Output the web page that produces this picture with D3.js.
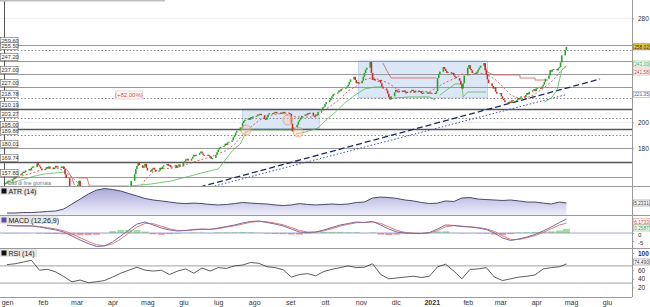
<!DOCTYPE html>
<html>
<head>
<meta charset="utf-8">
<script src="https://cdn.jsdelivr.net/npm/d3@7"></script>
<style>
  body { margin: 0; background: #fff; }
  svg { display: block; font-family: "Liberation Sans", Arial, sans-serif; }
</style>
</head>
<body>
<svg id="chart" width="650" height="307"></svg>
<script>
// ---- data ----

// daily closes, weekdays from 2019-12-30 to 2021-04-27
const closes = [
  153, 153.5, 154, 155, 154.5,
  156, 157.5, 157, 159, 160,
  159.5, 161, 162, 161.5, 163,
  164, 163, 165, 166, 165.5,
  168.5, 167, 166, 164.5, 163.5,
  164, 165.5, 164.5, 166, 165,
  164, 165, 166.5, 165.5, 166,
  165, 166, 164, 160, 157,
  148, 146, 142, 140, 143,
  152, 155, 150, 146, 141,
  130, 132, 125, 112, 118,
  115, 120, 112, 110, 116,
  122, 128, 126, 124, 121,
  126, 125, 120, 122, 121,
  130, 132, 134, 138, 138,
  138, 144, 148, 151, 155,
  160, 164, 166.5, 169.5, 167,
  165, 166, 168, 165, 163,
  162, 164, 165, 163.5, 162,
  163, 165, 164, 166, 167,
  168, 166.5, 167, 165.5, 166,
  167, 165, 166.5, 167.5, 166,
  169, 170, 171.5, 172, 170.5,
  172, 173.5, 175, 174, 175,
  176.5, 177.5, 176, 175, 174.5,
  175, 174, 173.5, 172, 172.5,
  175, 177, 179, 180.5, 181,
  182, 183.5, 182.5, 184.5, 185,
  186, 188.5, 190, 192, 193.5,
  196, 195, 199.5, 201, 202,
  203, 202, 204, 203.5, 204.5,
  205, 206, 205.5, 206.5, 205.5,
  202.5, 202, 204, 206, 207,
  206.5, 207.5, 208, 207, 207.5,
  206.5, 207.5, 208, 207, 207.5,
  207, 206.5, 199, 193, 196,
  198, 200.5, 202, 203.5, 205,
  206, 205.5, 207, 206.5, 207.5,
  205, 204.5, 206, 205.5, 208,
  210, 211.5, 212, 214, 215.5,
  217, 218.5, 220, 221.5, 222,
  223, 224.5, 224, 225.5, 226,
  226.5, 227.5, 229, 231, 233,
  235, 232.5, 230, 231, 230,
  232, 235, 238, 240.5, 242,
  246.5, 238, 232.5, 233.5, 232,
  231.5, 232.5, 230, 227.5, 226,
  224.5, 222, 219.5, 217.5, 220,
  223, 225, 224, 223, 224,
  223.5, 224.5, 223, 222.5, 223.5,
  224, 225, 224, 223, 224.5,
  223.5, 224, 222.5, 222, 223,
  223, 222, 223, 222.5, 222.5,
  222, 224, 234, 237, 239,
  242.5, 241, 239.5, 238, 238.5,
  237.5, 238, 236, 235, 234,
  232, 229, 226, 230, 236,
  242, 244, 241, 240, 238,
  237.5, 239, 240.5, 242, 243.5,
  245.5, 240, 237, 233, 230,
  228, 226, 227, 223.5, 222,
  222.5, 220, 218, 217, 215.5,
  214.5, 216, 215, 217, 216.5,
  217, 218.5, 217.5, 219, 220,
  219.5, 221, 222.5, 221.5, 223.5,
  224.5, 225.5, 224, 226, 226.5,
  226, 227.5, 229, 231, 233.5,
  236, 240, 239, 240.5, 241,
  240, 241.5, 242.5, 246, 251.5,
  255.5, 258.02
];

// weekly samples (one per week, Wednesdays from 2020-01-01, last = 2021-04-27)
const ma20 = [154, 157, 159, 160.8, 163, 164.3, 165, 162.9, 157.8, 151.8, 139.8, 129.5, 124, 119,
  124, 133.8, 145.3, 155.8, 161.8, 164.8, 164.5, 165.3, 167.4, 169.4, 171.5, 173.1, 175.8, 178.3,
  183, 190.4, 196.3, 201.4, 204.8, 206.1, 206.9, 204.5, 204, 204, 204.1, 209, 213.3, 217.9,
  224.3, 227.8, 232.8, 234.3, 232.5, 230, 225.5, 223.4, 223, 223.8, 223.4, 227.3, 230.8, 233.5,
  237, 236.6, 238, 236.9, 233.4, 227.8, 221, 218.5, 218.9, 221.6, 226, 231.1, 238.1, 244];

const atr = [2.0, 2.0, 2.15, 2.15, 2.3, 2.5, 2.65, 3.3, 4.9, 6.5, 8.1, 9.4, 9.9, 9.6, 9.1, 8.3,
  7.5, 6.7, 6.2, 5.9, 5.55, 5.2, 5.05, 5.2, 5.05, 4.75, 4.6, 4.75, 5.05, 5.4, 5.2, 5.05, 4.9,
  4.6, 4.4, 4.6, 5.05, 4.75, 4.6, 4.75, 4.9, 4.75, 4.9, 5.4, 5.55, 6.85, 7.15, 7.0, 6.7, 6.2,
  5.9, 5.4, 5.05, 5.2, 5.9, 5.7, 6.85, 7.0, 6.5, 6.35, 6.2, 6.05, 6.2, 5.9, 5.55, 5.55, 5.2,
  4.9, 5.55, 5.2331];

const macd = [4.7, 4.4, 4.4, 4.4, 3.75, 2.8, 1.9, 0.6, -1.9, -4.4, -6.6, -8.4, -8.1, -5.6, -1.9,
  1.9, 5.6, 6.9, 5, 3.1, 1.9, 1.25, 1.6, 2.2, 2.5, 2.2, 3.1, 4.05, 5, 6.25, 7.2, 7.5, 6.55, 5.6,
  4.4, 2.5, 0.6, 0.3, 0.6, 1.9, 3.4, 5, 5.9, 6.9, 6.55, 7.2, 5, 2.5, 0.6, 0, -0.3, -0.3, 0.3,
  2.5, 5, 4.7, 4.05, 3.75, 3.1, 2.2, 0, -3.1, -4.7, -3.75, -2.5, -0.9, 1.25, 3.75, 6.55, 8.75];

const signal = [4.9, 4.6, 4.5, 4.4, 4.1, 3.3, 2.5, 1.4, -0.5, -3.0, -5.3, -7.3, -8.0, -6.8, -3.8,
  0.0, 3.8, 6.0, 5.8, 4.2, 2.6, 1.6, 1.5, 1.9, 2.3, 2.3, 2.7, 3.6, 4.5, 5.6, 6.7, 7.3, 7.0, 6.2,
  5.1, 3.4, 1.6, 0.6, 0.5, 1.3, 2.7, 4.3, 5.4, 6.4, 6.6, 6.9, 6.0, 3.8, 1.6, 0.4, -0.1, -0.3, 0.0,
  1.5, 3.9, 4.6, 4.3, 3.9, 3.4, 2.6, 1.0, -1.8, -4.0, -4.1, -3.0, -1.6, 0.3, 2.7, 5.0, 6.1733];

const rsi = [73, 75, 79, 83, 60, 62, 56, 45, 33, 37, 31, 33, 36, 44, 53, 60, 67, 60, 58, 60, 50,
  58, 63, 53, 65, 58, 66, 64, 70, 72, 78, 76, 68, 66, 61, 44, 50, 52, 47, 57, 62, 66, 70, 66, 67,
  75, 50, 40, 42, 44, 46, 43, 46, 68, 74, 58, 40, 62, 63, 66, 44, 36, 40, 44, 46, 49, 63, 66, 68,
  74.49];

// support / resistance levels drawn across the price panel
const levels = [259.60, 255.50, 247.20, 237.00, 227.00, 218.78, 210.19, 203.27, 195.00, 189.86, 180.01, 169.74, 157.80];
const levelKinds = ["solid", "dotted", "solid", "solid", "solid", "dotted", "thick", "dotted", "thick", "dotted", "solid", "thick", "solid"];

// trailing lines (segments of [date, value])
const greenLine = [
  [["2019-12-29", 152.5], ["2020-01-08", 154.1], ["2020-01-16", 156.4], ["2020-01-25", 158.7], ["2020-02-02", 160.2], ["2020-02-11", 161.0], ["2020-02-20", 161.8]],
  [["2020-04-16", 151.0], ["2020-05-04", 152.5], ["2020-05-21", 154.8], ["2020-06-07", 158.7], ["2020-06-20", 161.8], ["2020-07-01", 164.1], ["2020-07-07", 171.0], ["2020-07-13", 177.9], ["2020-07-20", 183.3], ["2020-07-25", 192.5], ["2020-07-29", 194.1], ["2020-08-23", 194.1], ["2020-09-02", 194.1]],
  [["2020-09-06", 191.0], ["2020-09-14", 192.5], ["2020-09-25", 195.6], ["2020-10-02", 201.8], ["2020-10-10", 207.9], ["2020-10-18", 214.8], ["2020-10-27", 221.0], ["2020-11-04", 225.6], ["2020-11-13", 227.2], ["2020-11-20", 227.2]],
  [["2020-11-29", 218.7], ["2020-12-13", 219.5], ["2020-12-30", 219.5], ["2021-01-04", 217.2]],
  [["2021-01-08", 221.0], ["2021-01-21", 229.5], ["2021-01-27", 229.5], ["2021-01-28", 219.5], ["2021-02-01", 223.3], ["2021-02-17", 223.3]],
  [["2021-04-08", 215.6], ["2021-04-14", 218.7], ["2021-04-19", 224.8], ["2021-04-23", 240.2], ["2021-04-27", 243.0]]
];
const redLine = [
  [["2020-02-19", 165.6], ["2020-02-22", 163.3], ["2020-02-26", 157.2], ["2020-02-28", 151.8]],
  [["2020-03-03", 157.2], ["2020-03-10", 157.2], ["2020-03-12", 151.0], ["2020-04-15", 151.0]],
  [["2020-11-20", 245.6], ["2020-11-23", 240.2], ["2020-11-27", 234.1], ["2021-01-05", 234.1]],
  [["2021-02-15", 245.6], ["2021-02-18", 238.7], ["2021-02-23", 236.4], ["2021-03-18", 236.4], ["2021-03-18", 234.1], ["2021-03-31", 234.1], ["2021-03-31", 232.5], ["2021-04-11", 232.5]]
];

// trend lines
const trendNavy = [["2020-06-15", 150.2], ["2021-05-26", 233.3]];
const trendBlue = [["2020-06-28", 151.0], ["2021-04-27", 221.35]];

// consolidation boxes and marked lows
const boxes = [
  { from: "2020-07-22", to: "2020-09-26", lo: 195.00, hi: 210.19 },
  { from: "2020-10-30", to: "2021-02-18", lo: 218.78, hi: 247.20 }
];
const circles = [["2020-07-25", 194.0], ["2020-08-30", 201.8], ["2020-09-08", 192.5]];

// last values shown in the right margin
const lastGreen = 243.00, lastRed = 241.58, lastHist = 0.2587;

const monthNames = ["gen", "feb", "mar", "apr", "mag", "giu", "lug", "ago", "set", "ott", "nov", "dic"];

// ---- setup ----
const svg = d3.select("#chart");
const parse = d3.timeParse("%Y-%m-%d");
const plotR = 632;
const mainTop = 0, mainBot = 186, atrBot = 215, macdBot = 248, rsiBot = 297;

const x = d3.scaleTime()
  .domain([new Date(2020, 0, 1), new Date(2021, 5, 1)])
  .range([7, 607]);
const y = d3.scaleLinear().domain([200, 280]).range([122.3, 18.3]);
const yAtr = d3.scaleLinear().domain([2, 5.2331]).range([213, 203]);
const yMacd = d3.scaleLinear().domain([0, -5]).range([233, 241]);
const yRsi = d3.scaleLinear().domain([0, 100]).range([296, 253]);

// trading days
const days = [];
for (let d = new Date(2019, 11, 30); days.length < closes.length; d.setDate(d.getDate() + 1)) {
  if (d.getDay() !== 0 && d.getDay() !== 6) days.push(new Date(d));
}
const candles = closes.map((c, i) => ({ date: days[i], open: i ? closes[i - 1] : c, close: c }));

// weekly sample dates
const weeks = atr.map((v, k) => k < atr.length - 1 ? new Date(2020, 0, 1 + 7 * k) : new Date(2021, 3, 27));

const defs = svg.append("defs");
defs.append("clipPath").attr("id", "clipMain")
  .append("rect").attr("x", 0).attr("y", mainTop).attr("width", plotR).attr("height", mainBot - mainTop);
const grad = defs.append("linearGradient").attr("id", "atrFill")
  .attr("x1", 0).attr("x2", 0).attr("y1", 0).attr("y2", 1);
grad.append("stop").attr("offset", "0%").attr("stop-color", "#a9a9dc");
grad.append("stop").attr("offset", "100%").attr("stop-color", "#eeeef9");

// ---- main price panel ----
const main = svg.append("g").attr("clip-path", "url(#clipMain)");

// faint grid at right axis ticks
main.selectAll(".grid").data([280, 200, 180]).enter().append("line")
  .attr("x1", 0).attr("x2", plotR)
  .attr("y1", d => y(d)).attr("y2", d => y(d))
  .attr("stroke", "#ececec");

// boxes
main.selectAll(".box").data(boxes).enter().append("rect")
  .attr("x", d => x(parse(d.from)))
  .attr("width", d => x(parse(d.to)) - x(parse(d.from)))
  .attr("y", d => y(d.hi))
  .attr("height", d => y(d.lo) - y(d.hi))
  .attr("fill", "#dbe6f7")
  .attr("stroke", "#a9bede")
  .attr("stroke-width", 0.6);

// level lines
main.selectAll(".level").data(levels).enter().append("line")
  .attr("x1", 0).attr("x2", plotR)
  .attr("y1", d => Math.round(y(d)) + 0.5).attr("y2", d => Math.round(y(d)) + 0.5)
  .attr("stroke", (d, i) => levelKinds[i] === "thick" ? "#555" : levelKinds[i] === "dotted" ? "#8a8a8a" : "#999")
  .attr("stroke-width", (d, i) => levelKinds[i] === "thick" ? 1.6 : 1)
  .attr("stroke-dasharray", (d, i) => levelKinds[i] === "dotted" ? "1.5,2" : null);

// trend lines
const tl = d3.line().x(d => x(parse(d[0]))).y(d => y(d[1]));
main.append("path").attr("d", tl(trendNavy))
  .attr("fill", "none").attr("stroke", "#1c2a5e").attr("stroke-width", 1.3).attr("stroke-dasharray", "6,3");
main.append("path").attr("d", tl(trendBlue))
  .attr("fill", "none").attr("stroke", "#3d55b0").attr("stroke-width", 1).attr("stroke-dasharray", "1.5,2");

// 20-day average (red dotted)
const lineW = d3.line().x((d, i) => x(weeks[i])).y(d => y(d));
main.append("path").attr("d", lineW(ma20))
  .attr("fill", "none").attr("stroke", "#d9534f").attr("stroke-width", 0.9).attr("stroke-dasharray", "2,2");

// trailing lines
main.selectAll(".green").data(greenLine).enter().append("path")
  .attr("d", tl).attr("fill", "none").attr("stroke", "#55bb55").attr("stroke-width", 0.8);
main.selectAll(".red").data(redLine).enter().append("path")
  .attr("d", tl).attr("fill", "none").attr("stroke", "#d65a5a").attr("stroke-width", 0.8);

// candles
main.selectAll(".candle").data(candles).enter().append("rect")
  .attr("x", d => x(d.date) - 0.8)
  .attr("width", 1.6)
  .attr("y", d => y(Math.max(d.open, d.close)))
  .attr("height", d => Math.max(1, Math.abs(y(d.open) - y(d.close))))
  .attr("fill", d => d.close >= d.open ? "#22a822" : "#d12a2a");

// marked lows
main.selectAll(".circ").data(circles).enter().append("circle")
  .attr("cx", d => x(parse(d[0]))).attr("cy", d => y(d[1])).attr("r", 5)
  .attr("fill", "#f6cdb4").attr("fill-opacity", 0.45)
  .attr("stroke", "#e39a78").attr("stroke-width", 0.7);

// percentage label
const pct = svg.append("g").attr("transform", `translate(${x(parse("2020-04-15"))},${y(221)})`);
pct.append("rect").attr("x", -13).attr("y", -4).attr("width", 27).attr("height", 8)
  .attr("fill", "#fff").attr("stroke", "#eab2b2").attr("stroke-width", 0.6);
pct.append("text").attr("y", 2.3).attr("text-anchor", "middle")
  .style("font-size", "6px").style("fill", "#d04545").text("(+82,00%)");

// watermark
svg.append("text").attr("x", 8).attr("y", 185).style("font-size", "5px").style("fill", "#777")
  .text("Dati di fine giornata");

// left vertical marker and top bar
svg.append("line").attr("x1", 4.5).attr("x2", 4.5).attr("y1", 0).attr("y2", mainBot).attr("stroke", "#555");
svg.append("rect").attr("x", 0).attr("y", 0).attr("width", 165).attr("height", 1.5).attr("fill", "#bdbdbd");

// left level labels
const lab = svg.selectAll(".lvlab").data(levels).enter().append("g")
  .attr("transform", d => `translate(0,${Math.round(y(d)) - 4})`);
lab.append("rect").attr("x", 0.5).attr("y", -3.5).attr("width", 17.5).attr("height", 7)
  .attr("fill", "#fff").attr("stroke", "#666").attr("stroke-width", 0.6);
lab.append("text").attr("x", 1.5).attr("y", 2.2).style("font-size", "5.6px").style("fill", "#333")
  .text(d => d.toFixed(2));

// ---- ATR panel ----
const areaAtr = d3.area().x((d, i) => x(weeks[i])).y0(atrBot).y1(d => yAtr(d));
svg.append("path").attr("d", areaAtr(atr)).attr("fill", "url(#atrFill)");
svg.append("path").attr("d", d3.line().x((d, i) => x(weeks[i])).y(d => yAtr(d))(atr))
  .attr("fill", "none").attr("stroke", "#4a4a6a").attr("stroke-width", 1);

// ---- MACD panel ----
const hist = macd.map((m, i) => m - signal[i]);
svg.selectAll(".hist").data(hist).enter().append("rect")
  .attr("x", (d, i) => x(weeks[i]) - 3.5)
  .attr("width", 7)
  .attr("y", d => Math.min(yMacd(0), yMacd(d)))
  .attr("height", d => Math.abs(yMacd(d) - yMacd(0)))
  .attr("fill", d => d >= 0 ? "#5ccc5c" : "#e05555")
  .attr("opacity", 0.6);
svg.append("line").attr("x1", 0).attr("x2", plotR).attr("y1", yMacd(0)).attr("y2", yMacd(0))
  .attr("stroke", "#8c8cc8").attr("stroke-width", 0.8);
svg.append("path").attr("d", lineW.y(d => yMacd(d))(signal))
  .attr("fill", "none").attr("stroke", "#e07a7a").attr("stroke-width", 1);
svg.append("path").attr("d", lineW.y(d => yMacd(d))(macd))
  .attr("fill", "none").attr("stroke", "#7b6a9e").attr("stroke-width", 1);

// ---- RSI panel ----
svg.selectAll(".rsiref").data([70, 30]).enter().append("line")
  .attr("x1", 0).attr("x2", plotR)
  .attr("y1", d => yRsi(d)).attr("y2", d => yRsi(d))
  .attr("stroke", "#a0a0a0");
svg.append("path").attr("d", lineW.y(d => yRsi(d))(rsi))
  .attr("fill", "none").attr("stroke", "#333").attr("stroke-width", 0.8);

// ---- frames ----
[mainBot, atrBot, macdBot].forEach(v => {
  svg.append("line").attr("x1", 0).attr("x2", 650).attr("y1", v + 0.5).attr("y2", v + 0.5).attr("stroke", "#9a9a9a");
});
svg.append("line").attr("x1", 0).attr("x2", plotR).attr("y1", rsiBot + 0.5).attr("y2", rsiBot + 0.5).attr("stroke", "#9a9a9a");
svg.append("line").attr("x1", plotR + 0.5).attr("x2", plotR + 0.5).attr("y1", 0).attr("y2", rsiBot).attr("stroke", "#9a9a9a");

// panel titles
function panelTitle(yTop, txt, sq) {
  const g = svg.append("g").attr("transform", `translate(0,${yTop})`);
  g.append("rect").attr("x", 0).attr("y", 0).attr("width", txt.length * 3.4 + 10).attr("height", 8).attr("fill", "#e6e6e6");
  g.append("rect").attr("x", 1.5).attr("y", 1.5).attr("width", 5).attr("height", 5).attr("fill", sq);
  g.append("text").attr("x", 8.5).attr("y", 6.5).style("font-size", "7px").style("fill", "#222").text(txt);
}
panelTitle(187, "ATR (14)", "#111");
panelTitle(216, "MACD (12,26,9)", "#5a4fa8");
panelTitle(249, "RSI (14)", "#111");

// ---- axes ----
const axisStyle = g => {
  g.select(".domain").remove();
  g.selectAll("text").style("font-size", "6.5px").style("fill", "#333");
  g.selectAll("line").attr("stroke", "#999");
};
svg.append("g").attr("transform", `translate(${plotR},0)`)
  .call(d3.axisRight(y).tickValues([280, 200, 180]).tickSize(2).tickPadding(4))
  .call(axisStyle);
svg.append("g").attr("transform", `translate(${plotR},0)`)
  .call(d3.axisRight(yMacd).tickValues([0, -5]).tickSize(2).tickPadding(4).tickFormat(d => String(d)))
  .call(axisStyle)
  .call(g => g.selectAll("text").style("font-size", "6px").attr("dy", "0.5em"));
svg.append("g").attr("transform", `translate(${plotR},0)`)
  .call(d3.axisRight(yRsi).tickValues([20, 40, 60, 100]).tickSize(2).tickPadding(4))
  .call(axisStyle)
  .selectAll("text").style("font-weight", d => d === 100 ? "bold" : null);

const months = d3.timeMonth.range(new Date(2020, 0, 1), new Date(2021, 5, 2));
svg.append("g").attr("transform", `translate(0,${rsiBot})`)
  .call(d3.axisBottom(x).tickValues(months).tickSize(0).tickPadding(3)
    .tickFormat(d => d.getMonth() === 0 && d.getFullYear() === 2021 ? "2021" : monthNames[d.getMonth()]))
  .call(axisStyle)
  .call(g => g.selectAll("text").style("font-size", "7px")
    .style("font-weight", d => d.getFullYear() === 2021 && d.getMonth() === 0 ? "bold" : null));

// right value tags
function tag(yc, txt, fill, stroke, color) {
  const g = svg.append("g").attr("transform", `translate(633,${yc})`);
  g.append("rect").attr("x", 0.5).attr("y", -3).attr("width", 16.2).attr("height", 6)
    .attr("fill", fill).attr("stroke", stroke).attr("stroke-width", 0.6);
  g.append("text").attr("x", 1.2).attr("y", 1.9).attr("textLength", 14.6).attr("lengthAdjust", "spacingAndGlyphs")
    .style("font-size", "5.2px").style("fill", color).text(txt);
}
const last = closes[closes.length - 1];
tag(y(last), last.toFixed(2), "#f2cf3c", "#7a6a2a", "#222");
tag(64, lastGreen.toFixed(2), "#fff", "#7cc47c", "#3a9a3a");
tag(72, lastRed.toFixed(2), "#fff", "#e29a9a", "#c03a3a");
tag(y(trendBlue[1][1]), trendBlue[1][1].toFixed(2), "#fff", "#9aa4c8", "#4a5a9a");
tag(yAtr(atr[atr.length - 1]), atr[atr.length - 1].toFixed(4), "#fff", "#888", "#333");
tag(221.6, signal[signal.length - 1].toFixed(4), "#fff", "#e29a9a", "#c03a3a");
tag(228, lastHist.toFixed(4), "#fff", "#7cc47c", "#3a9a3a");
tag(262, rsi[rsi.length - 1].toFixed(3), "#fff", "#888", "#333");
</script>
</body>
</html>
